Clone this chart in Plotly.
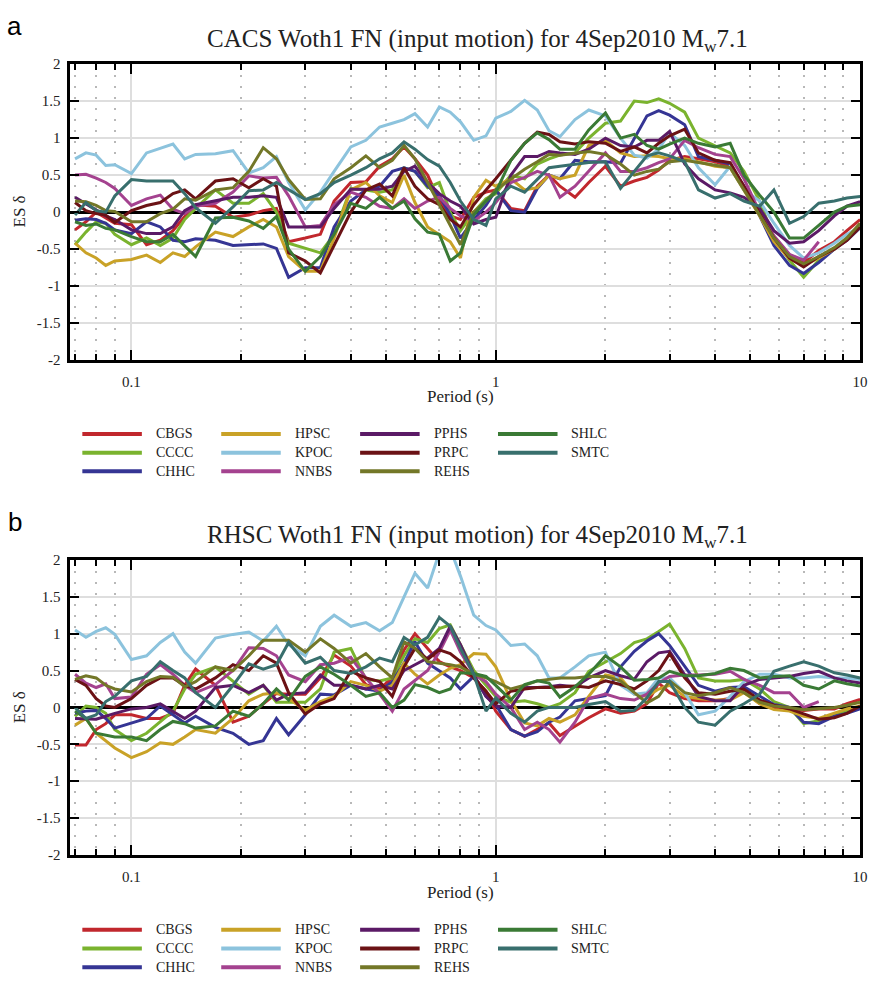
import math
import plotly.graph_objects as go

# Spectral periods (s)
period = [0.07, 0.075, 0.08, 0.085, 0.09, 0.1, 0.11, 0.12, 0.13, 0.14,
          0.15, 0.17, 0.19, 0.21, 0.23, 0.25, 0.27, 0.3, 0.33, 0.36,
          0.4, 0.44, 0.48, 0.52, 0.56, 0.6, 0.65, 0.7, 0.75, 0.8,
          0.87, 0.94, 1.0, 1.1, 1.2, 1.3, 1.4, 1.5, 1.65, 1.8,
          2.0, 2.2, 2.4, 2.6, 2.8, 3.0, 3.3, 3.6, 4.0, 4.4,
          4.8, 5.3, 5.8, 6.4, 7.0, 7.7, 8.5, 9.2, 10.0]

stations = ["CBGS", "CCCC", "CHHC", "HPSC", "KPOC", "NNBS",
            "PPHS", "PRPC", "REHS", "SHLC", "SMTC"]
colors = ["#c1272d", "#7ab32e", "#353594", "#c9a227", "#8cc3dd", "#a4428f",
          "#5b1a66", "#6b1215", "#737728", "#3a7a35", "#386f6d"]

# ---- CACS input motion: event-specific delta per station ----
cacs_cbgs = [-0.24, -0.13, 0.0, -0.08, -0.15, -0.17, -0.44, -0.38, -0.25, -0.06,
             0.1, 0.08, -0.07, -0.04, 0.02, 0.05, -0.4, -0.35, -0.3, 0.15,
             0.4, 0.41, 0.62, 0.72, 0.88, 0.72, 0.5, 0.15, -0.05, -0.1,
             0.2, 0.27, 0.3, 0.05, 0.02, 0.35, 0.5, 0.35, 0.2, 0.4,
             0.62, 0.35, 0.42, 0.47, 0.57, 0.7, 0.75, 0.72, 0.68, 0.62,
             0.35, 0.0, -0.35, -0.58, -0.68, -0.52, -0.4, -0.25, -0.1]
cacs_cccc = [-0.44, -0.27, -0.13, -0.15, -0.3, -0.44, -0.35, -0.45, -0.35, -0.1,
             0.05, 0.3, 0.12, 0.12, 0.25, 0.0, -0.42, -0.49, -0.55, -0.3,
             0.32, 0.3, 0.27, 0.3, 0.6, 0.55, 0.33, 0.4, 0.0, -0.25,
             0.0, 0.18, 0.25, 0.5, 0.45, 0.65, 0.72, 0.77, 0.8, 1.0,
             1.2, 1.23, 1.5, 1.48, 1.53, 1.47, 1.35, 1.0, 0.9, 0.8,
             0.55, 0.15, -0.35, -0.65, -0.88, -0.65, -0.5, -0.35, -0.17]
cacs_chhc = [-0.11, -0.09, -0.1, -0.15, -0.24, -0.29, -0.13, -0.2, -0.38, -0.4,
             -0.36, -0.38, -0.45, -0.44, -0.43, -0.49, -0.88, -0.75, -0.75, -0.2,
             0.15, 0.3, 0.35, 0.55, 0.6, 0.55, 0.35, 0.22, -0.04, -0.35,
             -0.1, 0.09, 0.3, 0.02, 0.0, 0.32, 0.5, 0.45, 0.7, 0.68,
             0.68, 0.66, 1.0, 1.3, 1.37, 1.31, 1.18, 0.75, 0.7, 0.65,
             0.35, -0.05, -0.45, -0.72, -0.83, -0.68, -0.5, -0.38, -0.21]
cacs_hpsc = [-0.42, -0.55, -0.62, -0.72, -0.66, -0.64, -0.58, -0.68, -0.55, -0.6,
             -0.47, -0.27, -0.33, -0.2, -0.1, -0.2, -0.6, -0.8, -0.8, -0.35,
             0.3, 0.4, 0.22, 0.13, 0.5, 0.13, -0.2, -0.3, -0.4, -0.62,
             0.2, 0.43, 0.35, 0.45, 0.3, 0.33, 0.5, 0.45, 0.5, 0.9,
             0.97, 0.8, 0.75, 0.76, 0.75, 0.72, 0.72, 0.68, 0.62, 0.6,
             0.3, -0.05, -0.4, -0.63, -0.72, -0.62, -0.5, -0.35, -0.17]
cacs_kpoc = [0.72, 0.8, 0.77, 0.63, 0.64, 0.52, 0.8, 0.86, 0.92, 0.72,
             0.78, 0.79, 0.83, 0.53, 0.6, 0.75, 0.4, 0.03, 0.27, 0.55,
             0.88, 0.97, 1.15, 1.2, 1.25, 1.33, 1.15, 1.42, 1.35, 1.22,
             0.97, 1.03, 1.27, 1.36, 1.51, 1.38, 1.1, 1.02, 1.25, 1.38,
             1.3, 1.0, 0.77, 0.73, 0.85, 1.07, 0.9, 0.6, 0.37, 0.62,
             0.3, 0.15, -0.15, -0.45, -0.62, -0.55, -0.42, -0.3, -0.2]
cacs_nnbs = [0.5, 0.51, 0.46, 0.4, 0.32, 0.09, 0.18, 0.23, 0.04, -0.02,
             0.08, 0.12, 0.27, 0.49, 0.46, 0.47, 0.22, -0.2, -0.18, 0.1,
             0.27, 0.2, 0.08, 0.05, 0.18, 0.05, 0.15, 0.2, 0.05, -0.05,
             -0.12, 0.0, 0.13, 0.4, 0.47, 0.55, 0.5, 0.2, 0.35, 0.55,
             0.8, 0.55, 0.55, 0.6, 0.67, 0.72, 0.97, 0.87, 0.78, 0.75,
             0.45, 0.0, -0.32, -0.57, -0.65, -0.4, None, None, None]
cacs_pphs = [0.2, 0.11, 0.02, -0.05, -0.1, -0.24, -0.29, -0.29, -0.2, 0.02,
             0.1, 0.15, 0.2, 0.2, 0.22, 0.2, -0.2, -0.2, -0.2, 0.05,
             0.31, 0.31, 0.31, 0.35, 0.55, 0.62, 0.4, 0.25, 0.15, 0.08,
             -0.16, -0.1, -0.07, 0.5, 0.75, 0.75, 0.82, 0.8, 0.78, 0.85,
             1.0, 0.9, 0.88, 0.97, 0.97, 1.09, 0.65, 0.45, 0.3, 0.26,
             0.2, 0.05, -0.25, -0.42, -0.4, -0.25, -0.05, 0.08, 0.14]
cacs_prpc = [0.13, 0.02, -0.02, -0.04, -0.14, 0.02, 0.09, 0.13, 0.25, 0.3,
             0.18, 0.42, 0.45, 0.33, 0.45, 0.35, -0.55, -0.66, -0.82, -0.45,
             0.0, 0.3, 0.38, 0.22, 0.6, 0.35, 0.18, 0.1, -0.1, -0.2,
             0.1, 0.3, 0.45, 0.7, 0.93, 1.08, 1.05, 0.95, 0.92, 0.95,
             0.93, 0.82, 0.88, 0.8, 0.93, 1.03, 1.12, 0.8, 0.7, 0.67,
             0.35, 0.0, -0.35, -0.62, -0.74, -0.6, -0.5, -0.38, -0.2]
cacs_rehs = [0.15, 0.14, 0.09, 0.02, 0.01, -0.13, -0.13, -0.02, 0.04, 0.18,
             0.16, 0.3, 0.33, 0.55, 0.87, 0.72, 0.44, 0.17, 0.18, 0.45,
             0.6, 0.76, 0.6, 0.7, 0.9, 0.72, 0.4, 0.1, -0.2, -0.44,
             0.0, 0.15, 0.3, 0.45, 0.58, 0.68, 0.78, 0.77, 0.8, 0.82,
             0.78, 0.65, 0.5, 0.55, 0.58, 0.68, 0.7, 0.67, 0.63, 0.6,
             0.3, -0.05, -0.35, -0.6, -0.7, -0.6, -0.48, -0.35, -0.15]
cacs_shlc = [-0.13, -0.18, -0.16, -0.22, -0.24, -0.33, -0.4, -0.4, -0.3, -0.45,
             -0.6, -0.08, -0.07, -0.12, -0.22, -0.06, -0.5, -0.8, -0.6, -0.3,
             0.12, 0.05, 0.2, 0.05, 0.15, -0.09, -0.27, -0.3, -0.66, -0.55,
             -0.04, 0.15, 0.27, 0.7, 0.93, 1.07, 0.98, 0.85, 0.85, 1.11,
             1.34, 1.0, 1.05, 0.9, 0.85, 0.92, 1.0, 0.93, 0.88, 0.93,
             0.5, 0.23, 0.0, -0.35, -0.35, -0.18, 0.0, 0.08, 0.1]
cacs_smtc = [-0.04, 0.13, 0.02, 0.0, 0.22, 0.44, 0.42, 0.42, 0.42, 0.25,
             0.06, -0.15, 0.07, 0.29, 0.3, 0.4, 0.3, 0.17, 0.25, 0.4,
             0.5, 0.6, 0.72, 0.8, 0.95, 0.85, 0.71, 0.62, 0.4, 0.15,
             -0.1, -0.18, 0.18, 0.35, 0.27, 0.44, 0.6, 0.62, 0.65, 0.67,
             0.68, 0.32, 0.55, 0.76, 0.8, 0.76, 0.68, 0.3, 0.19, 0.25,
             0.15, 0.08, 0.3, -0.15, -0.06, 0.12, 0.15, 0.19, 0.21]

# ---- RHSC input motion: event-specific delta per station ----
rhsc_cbgs = [-0.51, -0.51, -0.3, -0.22, -0.1, -0.1, -0.15, -0.15, -0.08, 0.3,
             0.52, 0.3, -0.2, -0.12, 0.05, 0.19, 0.18, 0.18, 0.4, 0.71,
             0.56, 0.31, 0.25, 0.4, 0.78, 1.0, 0.8, 0.62, 0.55, 0.5,
             0.4, 0.22, -0.05, -0.3, -0.39, -0.3, -0.21, -0.38, -0.25, -0.14,
             -0.02, -0.08, -0.05, 0.05, 0.33, 0.2, 0.12, 0.09, 0.09, 0.12,
             0.22, 0.05, 0.0, -0.02, -0.04, -0.02, -0.02, 0.05, 0.11]
rhsc_cccc = [-0.12, 0.02, 0.0, -0.08, -0.3, -0.45, -0.35, -0.19, -0.05, 0.25,
             0.45, 0.55, 0.35, 0.18, 0.3, 0.07, 0.07, 0.07, 0.25, 0.75,
             0.8, 0.38, 0.36, 0.4, 0.7, 0.93, 0.88, 1.07, 1.12, 0.85,
             0.5, 0.3, 0.15, 0.07, 0.09, 0.05, 0.0, 0.05, 0.2, 0.49,
             0.62, 0.73, 0.88, 0.93, 1.03, 1.13, 0.8, 0.4, 0.36, 0.36,
             0.38, 0.25, 0.08, 0.0, -0.22, -0.18, -0.1, -0.05, 0.02]
rhsc_chhc = [-0.08, -0.05, -0.04, -0.15, -0.28, -0.21, -0.15, 0.02, -0.1, -0.21,
             -0.12, -0.27, -0.35, -0.5, -0.45, -0.15, -0.37, -0.1, 0.18, 0.17,
             0.3, 0.25, 0.22, 0.35, 0.6, 0.89, 0.6, 0.5, 0.4, 0.25,
             0.42, 0.15, 0.04, -0.3, -0.39, -0.33, -0.2, -0.13, 0.09, 0.12,
             0.16, 0.55, 0.76, 0.9, 1.0, 0.84, 0.55, 0.3, 0.22, 0.27,
             0.28, 0.15, 0.04, 0.0, -0.2, -0.22, -0.12, -0.08, -0.02]
rhsc_hpsc = [-0.24, -0.15, -0.35, -0.45, -0.55, -0.68, -0.6, -0.48, -0.5, -0.4,
             -0.3, -0.35, -0.15, 0.09, 0.18, 0.2, 0.12, -0.04, 0.08, 0.15,
             0.35, 0.3, 0.22, 0.3, 0.6, 0.45, 0.32, 0.44, 0.53, 0.58,
             0.73, 0.72, 0.55, 0.1, -0.21, -0.25, -0.15, -0.2, -0.1, 0.15,
             0.44, 0.4, 0.18, 0.15, 0.25, 0.3, 0.15, 0.12, 0.1, 0.1,
             0.2, 0.05, -0.03, -0.05, -0.12, -0.15, -0.08, -0.02, 0.02]
rhsc_kpoc = [1.05, 0.95, 1.03, 1.08, 0.99, 0.65, 0.7, 0.88, 1.0, 0.75,
             0.6, 0.94, 0.99, 1.02, 0.9, 1.1, 0.85, 0.7, 1.1, 1.25,
             1.1, 1.15, 1.04, 1.15, 1.5, 1.82, 1.62, 2.1, 2.15, 1.78,
             1.25, 1.11, 1.05, 0.84, 0.86, 0.7, 0.4, 0.4, 0.55, 0.7,
             0.75, 0.3, 0.18, 0.2, 0.4, 0.4, 0.2, -0.1, -0.05, 0.15,
             0.35, 0.45, 0.45, 0.4, 0.4, 0.42, 0.4, 0.4, 0.38]
rhsc_nnbs = [0.45, 0.33, 0.27, 0.32, 0.12, 0.14, 0.45, 0.58, 0.45, 0.3,
             0.2, 0.31, 0.5, 0.81, 0.8, 0.7, 0.44, 0.35, 0.58, 0.6,
             0.68, 0.4, 0.18, -0.05, 0.25, 0.36, 0.5, 0.75, 1.05, 0.75,
             0.45, 0.35, 0.18, 0.0, -0.3, -0.2, -0.3, -0.47, -0.2, 0.12,
             0.18, 0.12, 0.1, 0.18, 0.33, 0.42, 0.44, 0.44, 0.45, 0.49,
             0.38, 0.3, 0.2, 0.2, 0.0, 0.08, None, None, None]
rhsc_pphs = [-0.15, -0.15, -0.16, -0.12, -0.08, -0.02, 0.0, 0.05, -0.05, -0.15,
             -0.05, 0.27, 0.3, 0.2, 0.3, 0.1, 0.18, 0.2, 0.44, 0.3,
             0.3, 0.25, 0.3, 0.25, 0.5, 0.58, 0.67, 0.8, 1.1, 0.85,
             0.45, 0.15, 0.02, 0.0, 0.27, 0.27, 0.28, 0.3, 0.28, 0.4,
             0.5, 0.43, 0.38, 0.62, 0.74, 0.76, 0.45, 0.15, 0.09, 0.09,
             0.3, 0.38, 0.4, 0.42, 0.46, 0.49, 0.4, 0.36, 0.33]
rhsc_prpc = [0.38, 0.3, 0.12, 0.02, 0.0, 0.12, 0.3, 0.4, 0.4, 0.3,
             0.25, 0.4, 0.58, 0.5, 0.7, 0.6, 0.2, -0.09, 0.05, 0.12,
             0.49, 0.4, 0.35, 0.15, 0.55, 0.8, 0.65, 0.78, 0.73, 0.62,
             0.4, 0.22, 0.05, 0.22, 0.25, 0.27, 0.27, 0.28, 0.29, 0.27,
             0.36, 0.31, 0.25, 0.36, 0.5, 0.73, 0.4, 0.2, 0.18, 0.22,
             0.25, 0.1, 0.03, -0.02, -0.09, -0.16, -0.14, -0.08, 0.02]
rhsc_rehs = [0.38, 0.43, 0.4, 0.3, 0.25, 0.21, 0.35, 0.42, 0.41, 0.28,
             0.35, 0.55, 0.5, 0.7, 0.91, 0.91, 0.91, 0.75, 0.93, 0.8,
             0.6, 0.73, 0.55, 0.4, 0.89, 0.8, 0.62, 0.6, 0.58, 0.55,
             0.45, 0.4, 0.35, 0.25, 0.3, 0.36, 0.38, 0.4, 0.4, 0.42,
             0.42, 0.36, 0.2, 0.06, 0.15, 0.36, 0.2, 0.16, 0.2, 0.27,
             0.2, 0.07, 0.02, 0.0, -0.03, -0.02, 0.0, 0.03, 0.07]
rhsc_shlc = [-0.05, -0.15, -0.35, -0.38, -0.4, -0.4, -0.45, -0.3, -0.19, -0.22,
             -0.28, -0.25, -0.05, -0.12, 0.05, 0.25, 0.1, 0.42, 0.55, 0.45,
             0.3, 0.15, 0.2, 0.0, 0.1, 0.31, 0.27, 0.2, 0.25, 0.47,
             0.46, 0.42, 0.3, 0.1, 0.31, 0.36, 0.33, 0.14, 0.28, 0.45,
             0.7, 0.55, 0.37, 0.38, 0.4, 0.49, 0.43, 0.43, 0.46, 0.53,
             0.5, 0.4, 0.42, 0.43, 0.3, 0.25, 0.36, 0.32, 0.29]
rhsc_smtc = [0.0, -0.15, -0.1, 0.08, 0.15, 0.36, 0.42, 0.62, 0.5, 0.4,
             0.2, 0.0, 0.3, 0.59, 0.52, 0.58, 0.88, 0.6, 0.68, 0.5,
             0.46, 0.55, 0.67, 0.62, 0.95, 0.85, 0.95, 1.22, 1.1, 0.8,
             0.45, -0.05, 0.13, -0.08, -0.2, -0.05, 0.0, 0.0, 0.0, 0.04,
             0.08, -0.05, -0.04, 0.13, 0.35, 0.35, 0.0, -0.2, -0.24, -0.05,
             0.05, 0.18, 0.49, 0.56, 0.62, 0.56, 0.47, 0.44, 0.4]

cacs_series = [cacs_cbgs, cacs_cccc, cacs_chhc, cacs_hpsc, cacs_kpoc, cacs_nnbs,
               cacs_pphs, cacs_prpc, cacs_rehs, cacs_shlc, cacs_smtc]
rhsc_series = [rhsc_cbgs, rhsc_cccc, rhsc_chhc, rhsc_hpsc, rhsc_kpoc, rhsc_nnbs,
               rhsc_pphs, rhsc_prpc, rhsc_rehs, rhsc_shlc, rhsc_smtc]

y_ticks = [-2, -1.5, -1, -0.5, 0, 0.5, 1, 1.5, 2]
y_labels = ["-2", "-1.5", "-1", "-0.5", "0", "0.5", "1", "1.5", "2"]
x_major = [0.1, 1, 10]
x_major_labels = ["0.1", "1", "10"]
x_minor = [0.07, 0.08, 0.09, 0.2, 0.3, 0.4, 0.5, 0.6, 0.7, 0.8, 0.9,
           2, 3, 4, 5, 6, 7, 8, 9]

W, H = 879, 984
SERIF = "Liberation Serif, Times New Roman, serif"
SANS = "Liberation Sans, Arial, sans-serif"
TXT = "#222222"


def px_x(p):
    return p / W


def px_y(p):
    return 1 - p / H


fig = go.Figure()

for axis_id, series in (("", cacs_series), ("2", rhsc_series)):
    for name, color, vals in zip(stations, colors, series):
        fig.add_trace(go.Scatter(
            x=period, y=vals, name=name, mode="lines",
            line=dict(color=color, width=3),
            xaxis="x" + axis_id, yaxis="y" + axis_id,
            showlegend=False, connectgaps=False))

# plot-area pixel boxes: (top, bottom)
left_px, right_px = 71, 867
boxes = {"": (57, 358), "2": (561, 861)}


def xaxis_cfg(anchor):
    return dict(
        type="log", range=[math.log10(0.068), 1.0],
        domain=[px_x(left_px), px_x(right_px)], anchor=anchor,
        tickmode="array", tickvals=x_major, ticktext=x_major_labels,
        ticks="inside", ticklen=10, tickwidth=2, tickcolor="black",
        showline=True, linecolor="black", linewidth=3, mirror="ticks",
        showgrid=True, gridcolor="#dedede", gridwidth=2, zeroline=False,
        tickfont=dict(family=SERIF, size=15, color=TXT),
        ticklabelstandoff=6,
        minor=dict(tickmode="array", tickvals=x_minor, ticks="inside",
                   ticklen=6, tickwidth=2, tickcolor="black",
                   showgrid=True, gridcolor="#b8b8b8", gridwidth=2,
                   griddash="2px,9px"),
    )


def yaxis_cfg(anchor, top, bottom):
    return dict(
        range=[-2, 2], domain=[px_y(bottom), px_y(top)], anchor=anchor,
        tickmode="array", tickvals=y_ticks, ticktext=y_labels,
        ticks="inside", ticklen=9, tickwidth=2, tickcolor="black",
        showline=True, linecolor="black", linewidth=3, mirror="ticks",
        showgrid=True, gridcolor="#dedede", gridwidth=2,
        zeroline=True, zerolinecolor="black", zerolinewidth=3,
        tickfont=dict(family=SERIF, size=15, color=TXT),
        ticklabelstandoff=4,
    )


fig.update_layout(
    width=W, height=H,
    margin=dict(l=0, r=0, t=0, b=0),
    paper_bgcolor="white", plot_bgcolor="white",
    showlegend=False,
    xaxis=xaxis_cfg("y"),
    yaxis=yaxis_cfg("x", *boxes[""]),
    xaxis2=xaxis_cfg("y2"),
    yaxis2=yaxis_cfg("x2", *boxes["2"]),
)

annotations = []
shapes = []

panels = [
    ("a", "CACS Woth1 FN (input motion) for 4Sep2010 M<sub>w</sub>7.1", 0),
    ("b", "RHSC Woth1 FN (input motion) for 4Sep2010 M<sub>w</sub>7.1", 504),
]
for letter, title, dy in panels:
    annotations.append(dict(
        text=letter, x=px_x(15), y=px_y(18 + dy), xref="paper", yref="paper",
        xanchor="center", yanchor="middle", showarrow=False,
        font=dict(family=SANS, size=26, color="black")))
    annotations.append(dict(
        text=title, x=px_x(207), y=px_y(33 + dy), xref="paper", yref="paper",
        xanchor="left", yanchor="middle", showarrow=False,
        font=dict(family=SERIF, size=25, color=TXT)))
    annotations.append(dict(
        text="ES δ", x=px_x(20), y=px_y(207 + dy), xref="paper", yref="paper",
        xanchor="center", yanchor="middle", textangle=-90, showarrow=False,
        font=dict(family=SERIF, size=17, color=TXT)))
    annotations.append(dict(
        text="Period (s)", x=px_x(464), y=px_y(395 + dy), xref="paper", yref="paper",
        xanchor="center", yanchor="middle", showarrow=False,
        font=dict(family=SERIF, size=17, color=TXT)))

    # legend block: 4 columns x 3 rows, column-major order
    col_x = [83, 223, 363, 502]
    row_y = [433, 452, 471]
    for k, (name, color) in enumerate(zip(stations, colors)):
        c, r = divmod(k, 3)
        x0 = col_x[c]
        yy = row_y[r] + dy
        shapes.append(dict(type="line", xref="paper", yref="paper",
                           x0=px_x(x0), x1=px_x(x0 + 60), y0=px_y(yy), y1=px_y(yy),
                           line=dict(color=color, width=4)))
        annotations.append(dict(
            text=name, x=px_x(x0 + 72), y=px_y(yy), xref="paper", yref="paper",
            xanchor="left", yanchor="middle", showarrow=False,
            font=dict(family=SERIF, size=14, color=TXT)))

fig.update_layout(annotations=annotations, shapes=shapes)

fig.write_html("out.html")
